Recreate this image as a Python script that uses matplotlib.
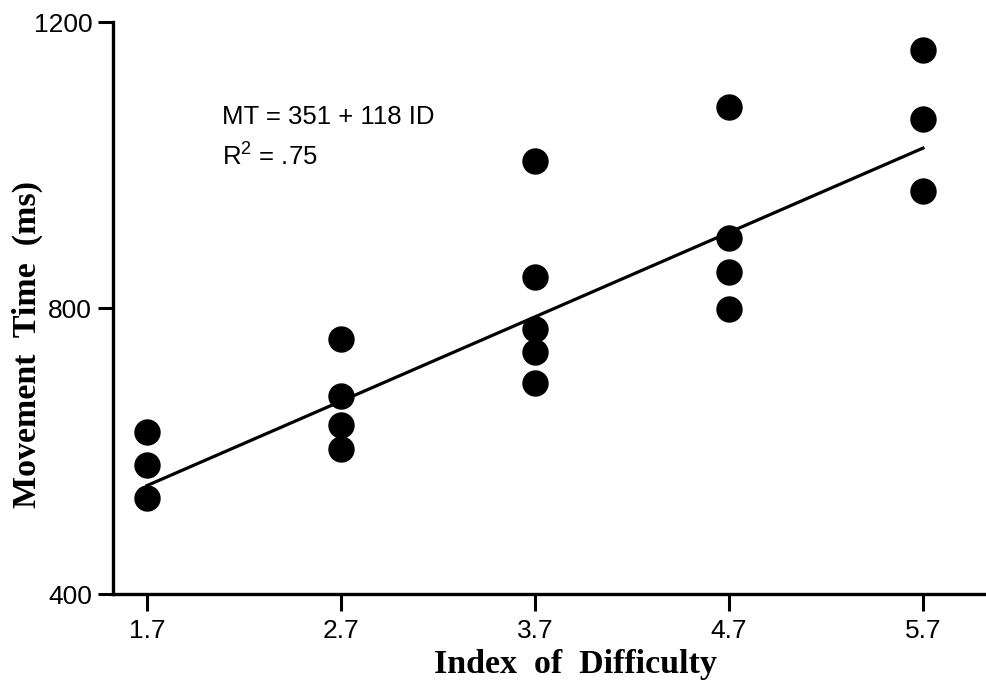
import matplotlib
matplotlib.use("Agg")
import matplotlib.pyplot as plt
import numpy as np

# Data
id_values = [1.7, 2.7, 3.7, 4.7, 5.7]
mt_17 = [626, 580, 534]
mt_27 = [757, 677, 636, 603]
mt_37 = [1005, 843, 770, 738, 695]
mt_47 = [1081, 898, 851, 798]
mt_57 = [1161, 1065, 963]
intercept = 351
slope = 118
x_ticks = [1.7, 2.7, 3.7, 4.7, 5.7]
x_tick_labels = ["1.7", "2.7", "3.7", "4.7", "5.7"]
y_ticks = [400, 800, 1200]
y_tick_labels = ["400", "800", "1200"]

plt.rcParams['mathtext.fontset'] = 'custom'
plt.rcParams['mathtext.rm'] = 'Liberation Sans'

fig = plt.figure(figsize=(9.86, 6.86), dpi=100)
ax = fig.add_axes([113/986, 92/686, (985-113)/986, (594-22)/686])

groups = [mt_17, mt_27, mt_37, mt_47, mt_57]
for xv, ys in zip(id_values, groups):
    ax.plot([xv]*len(ys), ys, 'o', color='black', markersize=18, linestyle='none')

xl = np.array([id_values[0], id_values[-1]])
ax.plot(xl, intercept + slope*xl, color='black', linewidth=2.3)

ax.set_xlim(1.525, 6.02)
ax.set_ylim(400, 1200)
ax.set_xticks(x_ticks)
ax.set_xticklabels(x_tick_labels, fontfamily='Liberation Sans', fontsize=19)
ax.set_yticks(y_ticks)
ax.set_yticklabels(y_tick_labels, fontfamily='Liberation Sans', fontsize=19)
ax.tick_params(axis='x', direction='out', length=12, width=2.2, pad=6)
ax.tick_params(axis='y', direction='out', length=11, width=2.2, pad=4)

for s in ['top', 'right']:
    ax.spines[s].set_visible(False)
for s in ['left', 'bottom']:
    ax.spines[s].set_linewidth(2.4)

ax.set_xlabel('Index  of  Difficulty', fontfamily='Liberation Serif', fontweight='bold', fontsize=24.5)
ax.set_ylabel('Movement  Time  (ms)', fontfamily='Liberation Serif', fontweight='bold', fontsize=24.5)
ax.xaxis.set_label_coords((575-113)/872, -(665-594)/572)
ax.yaxis.set_label_coords(-(113-27)/872, (594-344)/572)
ax.xaxis.label.set_va('center')
ax.yaxis.label.set_va('center')

ax.text(2.085, 1058, 'MT = 351 + 118 ID', fontfamily='Liberation Sans', fontsize=18.5, va='baseline', ha='left')
ax.text(2.085, 999, r'$\mathregular{R^2}$ = .75', fontfamily='Liberation Sans', fontsize=18.5, va='baseline', ha='left')

fig.savefig('out.png', dpi=100)
